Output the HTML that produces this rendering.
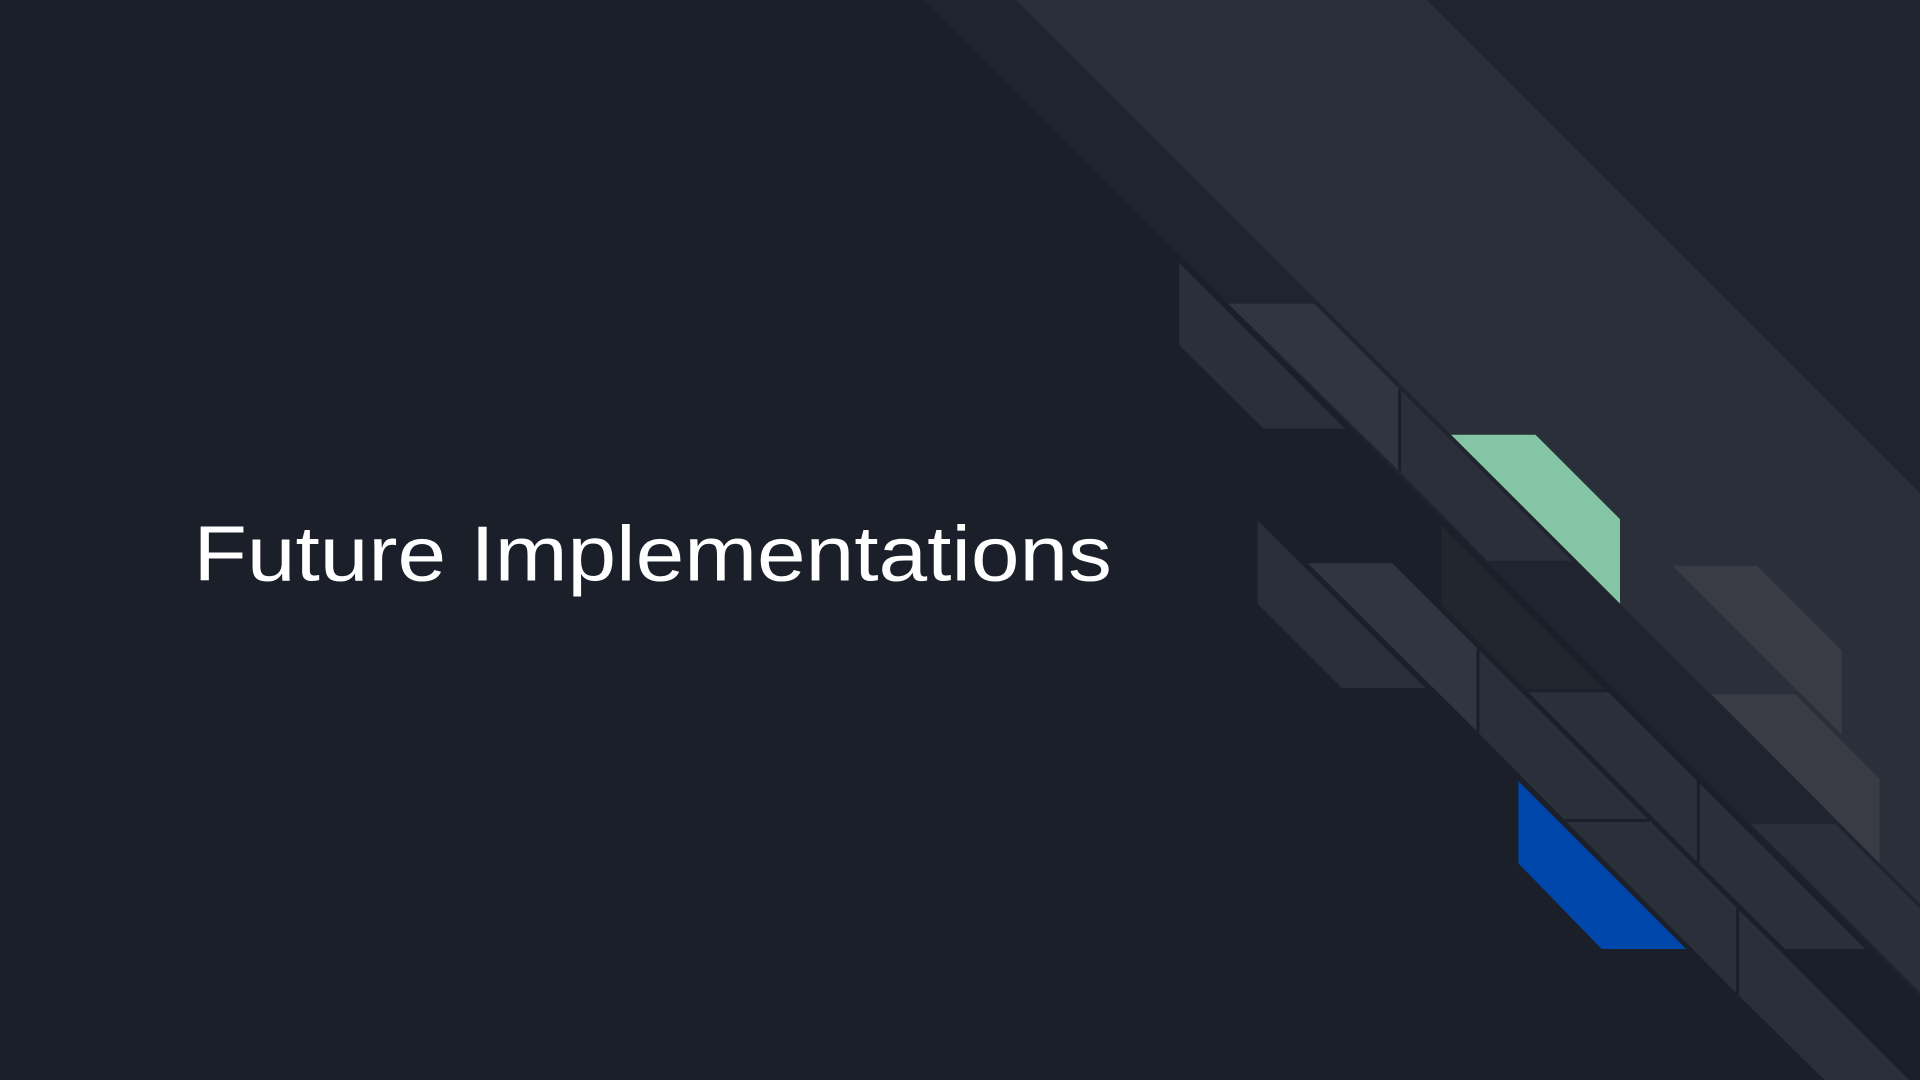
<!DOCTYPE html>
<html><head><meta charset="utf-8"><style>html,body{margin:0;padding:0;background:#1b1f2a;overflow:hidden}svg{display:block}</style></head>
<body>
<svg width="1920" height="1080" viewBox="0 0 1568 882" preserveAspectRatio="none" xmlns="http://www.w3.org/2000/svg">
<rect width="1568" height="882" fill="#1b1f2a"/>
<polygon points="755,0 1568,0 1568,813" fill="#20242e"/>
<polygon points="830,0 1165,0 1568,403 1568,738" fill="#2a2f39"/>
<polygon points="1215,458 1284,458 1568,742 1568,810" fill="#20242e"/>
<polygon points="963,213 1100,350 1032,350 963,282" fill="#2a2f39"/>
<polygon points="1003,248 1073,248 1143,318 1143,385" fill="#30353f"/>
<polygon points="1143,318 1284,458 1215,458 1143,385" fill="#2a2f39"/>
<polygon points="1185,355 1254,355 1323,424 1323,493" fill="#83c5a5"/>
<polygon points="1027,425 1164,562 1096,562 1027,493" fill="#2a2f39"/>
<polygon points="1068,460 1137,460 1207,530 1207,598" fill="#30353f"/>
<polygon points="1177,425 1316,564 1247,564 1177,494" fill="#22262f"/>
<polygon points="1207,530 1347,670 1278,670 1207,598" fill="#2a2f39"/>
<polygon points="1247,564 1316,564 1387,635 1387,705" fill="#2a2f39"/>
<polygon points="1240,638 1377,775 1308,775 1240,705" fill="#0047ab"/>
<polygon points="1278,670 1347,670 1419,742 1419,812" fill="#2a2f39"/>
<polygon points="1387,635 1527,775 1458,775 1387,705" fill="#2a2f39"/>
<polygon points="1366,462 1435,462 1504,531 1504,600" fill="#393c45"/>
<polygon points="1398,567 1466,567 1535,636 1535,705" fill="#393c45"/>
<polygon points="1430,673 1499,673 1568,742 1568,810" fill="#2a2f39"/>
<polygon points="1419,742 1559,882 1490,882 1419,812" fill="#2a2f39"/>
<g stroke="#1b1f2a" stroke-width="2.5" fill="none">
<line x1="963" y1="213" x2="1568" y2="818"/>
<line x1="1143" y1="318" x2="1143" y2="385"/>
<line x1="1207" y1="530" x2="1207" y2="598"/>
<line x1="1387" y1="635" x2="1387" y2="705"/>
<line x1="1419" y1="742" x2="1419" y2="812"/>
<line x1="1247" y1="564" x2="1316" y2="564"/>
<line x1="1278" y1="670" x2="1347" y2="670"/>
</g>
<text x="158" y="474" font-family="Liberation Sans, sans-serif" font-size="64" fill="#ffffff" textLength="750" lengthAdjust="spacingAndGlyphs">Future Implementations</text>
</svg>
</body></html>
